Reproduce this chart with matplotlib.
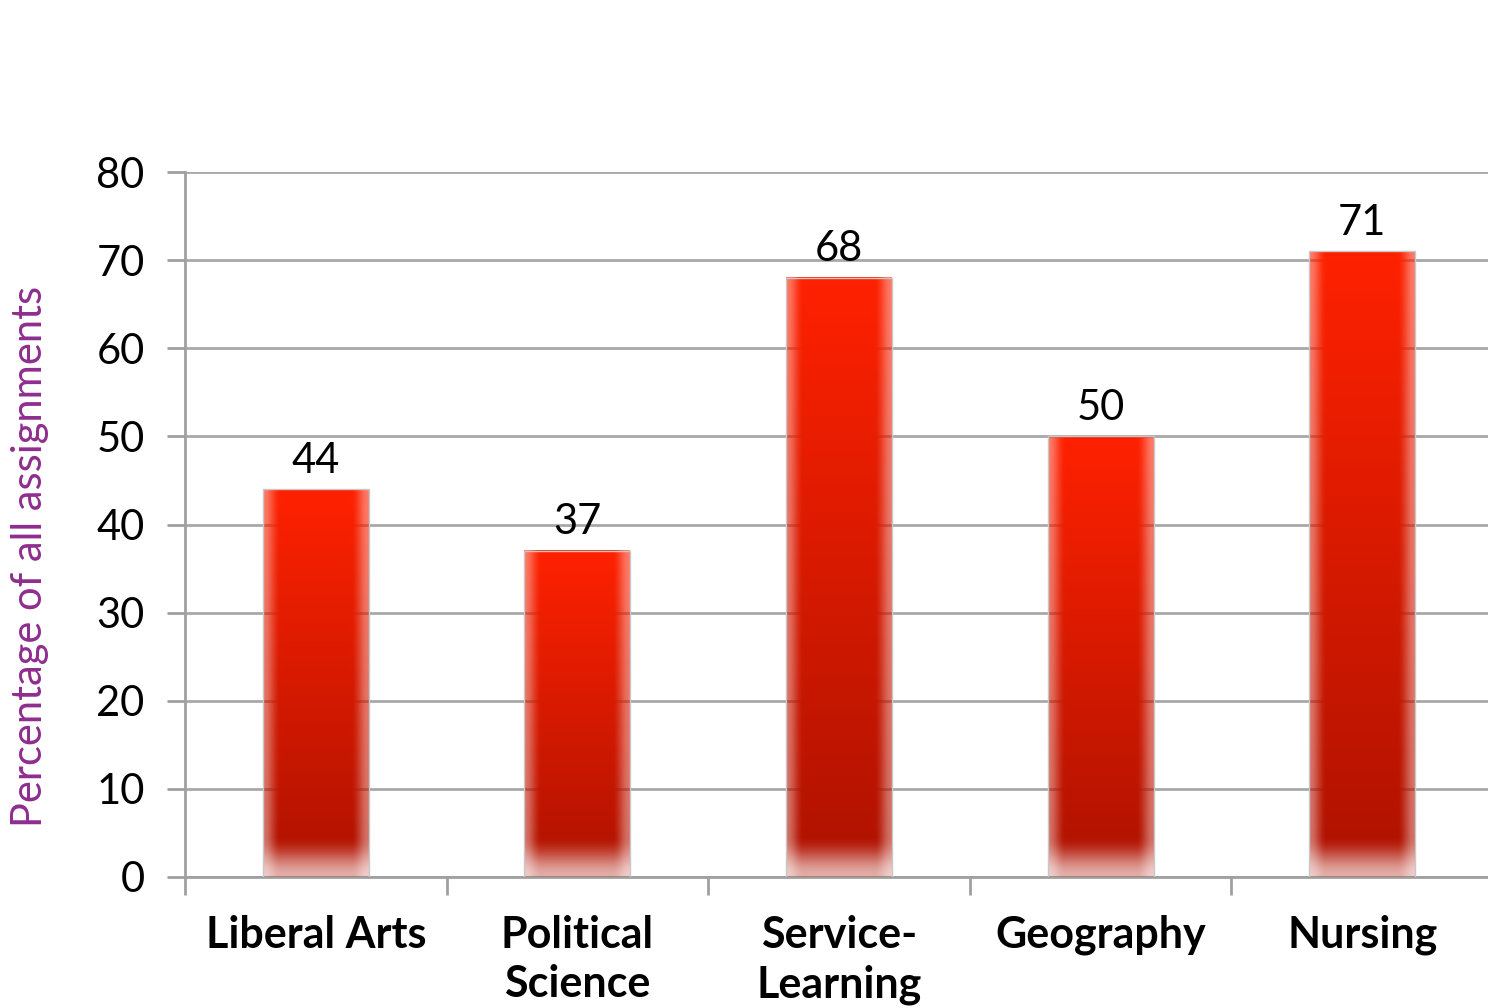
import numpy as np
import matplotlib
matplotlib.use("Agg")
import matplotlib.pyplot as plt

# Chart data
categories = ["Liberal Arts", "Political\nScience", "Service-\nLearning", "Geography", "Nursing"]
values = [44, 37, 68, 50, 71]
y_ticks = [0, 10, 20, 30, 40, 50, 60, 70, 80]
y_label = "Percentage of all assignments"

plt.rcParams['font.family'] = ['Lato', 'DejaVu Sans']

fig = plt.figure(figsize=(14.88, 10.08), dpi=100)
ax = fig.add_axes([185 / 1488, 1 - 877 / 1008, 1308 / 1488, 705 / 1008])

x = np.arange(len(values))
bars = ax.bar(x, values, width=0.405, color="none", edgecolor="#c8c8c8", linewidth=1, zorder=4)

# gradient fill for each bar, soft at the sides and bottom
top_col = np.array([1.0, 0.13, 0.0])
bot_col = np.array([0.68, 0.07, 0.0])
ny, nx = 300, 80


def smooth(t):
    t = np.clip(t, 0, 1)
    return t * t * (3 - 2 * t)


for rect in bars:
    x0, w, h = rect.get_x(), rect.get_width(), rect.get_height()
    t = np.linspace(0, 1, ny)[:, None]
    col = top_col * (1 - t[..., None]) + bot_col * t[..., None]
    col = np.broadcast_to(col, (ny, nx, 3))
    xs = np.linspace(0, 1, nx)[None, :]
    d_side = np.minimum(xs, 1 - xs)
    a_h = 0.6 + 0.4 * smooth(d_side / 0.16)
    depth = (1 - t) * h  # distance from bottom in data units
    a_v = 0.35 + 0.65 * smooth(depth / 4.5)
    alpha = a_h * a_v
    img = np.dstack([col, alpha])
    ax.imshow(img, extent=[x0, x0 + w, 0, h], aspect="auto", zorder=3, interpolation="bilinear")

for xi, v in zip(x, values):
    ax.annotate(str(v), (xi, v), xytext=(0, 7), textcoords="offset points",
                ha="center", va="bottom", fontsize=30, color="black")

ax.set_xlim(-0.5, len(values) - 0.5)
ax.set_ylim(0, 80)
ax.set_yticks(y_ticks)
ax.set_yticklabels([str(t) for t in y_ticks], fontsize=30)

ax.set_xticks(np.arange(-0.5, len(values), 1))
ax.set_xticklabels([])
ax.set_xticks(x, minor=True)
ax.set_xticklabels(categories, minor=True, fontsize=31, fontweight="bold", linespacing=1.3)
ax.tick_params(axis="x", which="minor", length=0, pad=27)
ax.tick_params(axis="x", which="major", length=13, width=2, color="#a0a0a0", direction="out")
ax.tick_params(axis="y", length=13, width=2, color="#a0a0a0", direction="out", pad=16)

ax.grid(axis="y", color="#a8a8a8", linewidth=2, zorder=1)
ax.set_axisbelow(True)
for s in ["top", "right"]:
    ax.spines[s].set_visible(False)
for s in ["left", "bottom"]:
    ax.spines[s].set_color("#a0a0a0")
    ax.spines[s].set_linewidth(2)

fig.text(30 / 1488, 1 - 556 / 1008, y_label, rotation=90, ha="center", va="center",
         fontsize=30, color="#8e2d8e")

fig.savefig("out.png", dpi=100)
